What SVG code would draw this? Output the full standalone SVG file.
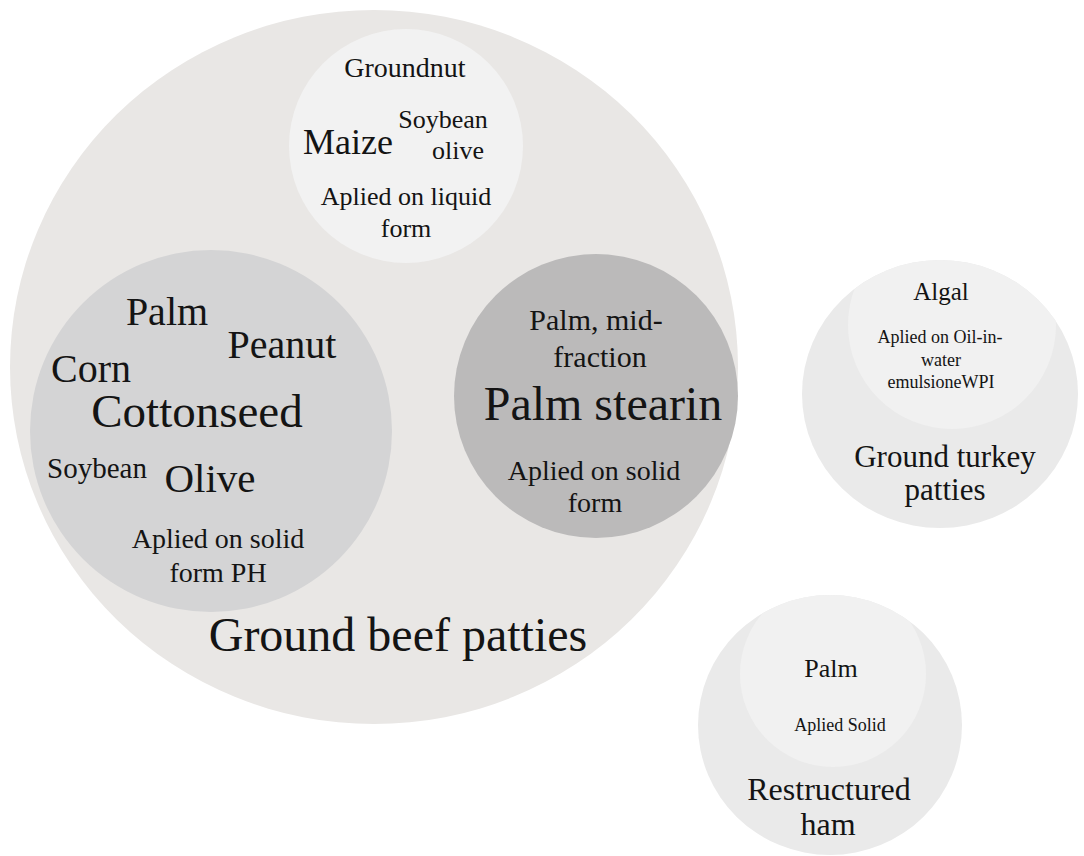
<svg xmlns="http://www.w3.org/2000/svg" width="1084" height="856" viewBox="0 0 1084 856">
<style>
text{font-family:'Liberation Serif','Times New Roman','DejaVu Serif',serif;fill:#141414;text-anchor:middle}
.outer{fill:#e9e7e5}
.light{fill:#f2f2f2}
.mid{fill:#d4d4d5}
.dark{fill:#bbbaba}
.tout{fill:#eaeaea}
.tin{fill:#f1f1f1}
</style>
<defs>
<clipPath id="clipTurkey"><ellipse cx="940" cy="394" rx="138" ry="134"/></clipPath>
<clipPath id="clipHam"><ellipse cx="830" cy="725" rx="132" ry="130"/></clipPath>
</defs>
<rect width="1084" height="856" fill="#ffffff"/>

<g id="ground-beef-patties">
<ellipse class="outer" cx="374" cy="367" rx="364" ry="357"/>
<text x="398" y="651" font-size="48" font-family="Liberation Serif, serif">Ground beef patties</text>
</g>

<g id="liquid-oils">
<circle class="light" cx="406" cy="146" r="117"/>
<text x="405" y="77" font-size="28">Groundnut</text>
<text x="348" y="154" font-size="36">Maize</text>
<text x="443" y="128" font-size="26">Soybean</text>
<text x="458" y="159" font-size="26">olive</text>
<text x="406" y="205" font-size="26">Aplied on liquid</text>
<text x="406" y="237" font-size="26">form</text>
</g>

<g id="solid-ph-oils">
<circle class="mid" cx="211" cy="431" r="181"/>
<text x="167" y="325" font-size="40">Palm</text>
<text x="282" y="358" font-size="40">Peanut</text>
<text x="91" y="382" font-size="40">Corn</text>
<text x="197" y="427" font-size="47">Cottonseed</text>
<text x="97" y="478" font-size="29">Soybean</text>
<text x="210" y="492" font-size="41">Olive</text>
<text x="218" y="548" font-size="28">Aplied on solid</text>
<text x="218" y="582" font-size="28">form PH</text>
</g>

<g id="solid-palm-fractions">
<circle class="dark" cx="596" cy="396" r="142"/>
<text x="596" y="330" font-size="30">Palm, mid-</text>
<text x="600" y="367" font-size="30">fraction</text>
<text x="603" y="420" font-size="48">Palm stearin</text>
<text x="594" y="480" font-size="28">Aplied on solid</text>
<text x="595" y="512" font-size="28">form</text>
</g>

<g id="ground-turkey-patties">
<ellipse class="tout" cx="940" cy="394" rx="138" ry="134"/>
<text x="945" y="467" font-size="31">Ground turkey</text>
<text x="945" y="500" font-size="31">patties</text>
</g>

<g id="algal-oil">
<circle class="tin" cx="952" cy="325" r="104" clip-path="url(#clipTurkey)"/>
<text x="941" y="300" font-size="25">Algal</text>
<text x="940" y="343" font-size="18">Aplied on Oil-in-</text>
<text x="941" y="366" font-size="18">water</text>
<text x="941" y="388" font-size="18">emulsioneWPI</text>
</g>

<g id="restructured-ham">
<ellipse class="tout" cx="830" cy="725" rx="132" ry="130"/>
<text x="829" y="800" font-size="32">Restructured</text>
<text x="828" y="835" font-size="32">ham</text>
</g>

<g id="palm-solid">
<circle class="tin" cx="833" cy="674" r="93" clip-path="url(#clipHam)"/>
<text x="831" y="677" font-size="26">Palm</text>
<text x="840" y="731" font-size="18">Aplied Solid</text>
</g>

<g id="connectors"/>
</svg>
